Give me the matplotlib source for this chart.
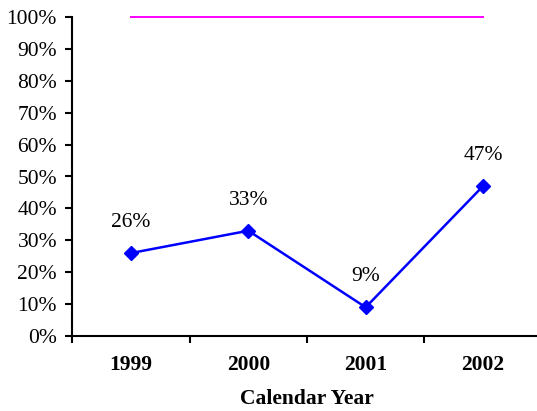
import matplotlib
matplotlib.use("Agg")
import matplotlib.pyplot as plt
from matplotlib.ticker import FixedLocator, PercentFormatter

years = ["1999", "2000", "2001", "2002"]
values = [26, 33, 9, 47]
target = [100, 100, 100, 100]
value_labels = ["26%", "33%", "9%", "47%"]
yticks = list(range(0, 101, 10))

plt.rcParams['font.family'] = ['Liberation Serif', 'DejaVu Serif']
FS = 15.5

fig = plt.figure(figsize=(5.37, 4.11), dpi=100)
ax = fig.add_axes([72.3/537, 75/411, (541.7-72.3)/537, (336-17)/411])

x = list(range(len(years)))
ax.plot(x, target, color='#FF00FF', lw=1.4, clip_on=False)
ax.plot(x, values, color='#0000FF', lw=1.8, marker='D', markersize=7.5, clip_on=False)
for xi, v, lab in zip(x, values, value_labels):
    ax.annotate(lab, (xi, v), xytext=(0, 22), textcoords='offset points',
                ha='center', va='center', fontsize=FS)

ax.set_xlim(-0.5, 3.5)
ax.set_ylim(0, 100)
ax.set_yticks(yticks)
ax.yaxis.set_major_formatter(PercentFormatter(decimals=0))
ax.set_xticks(x)
ax.set_xticklabels(years, fontweight='bold', fontsize=FS)
ax.xaxis.set_minor_locator(FixedLocator([-0.5, 0.5, 1.5, 2.5, 3.5]))
ax.tick_params(axis='x', which='major', length=0, pad=14)
ax.tick_params(axis='x', which='minor', length=5, width=1.5, direction='out')
ax.tick_params(axis='y', length=5, width=1.5, direction='out', labelsize=FS, pad=6)
ax.set_xlabel("Calendar Year", fontweight='bold', fontsize=FS, labelpad=10)

for s in ['top', 'right']:
    ax.spines[s].set_visible(False)
for s in ['left', 'bottom']:
    ax.spines[s].set_linewidth(1.5)

fig.savefig("out.png", dpi=100)
